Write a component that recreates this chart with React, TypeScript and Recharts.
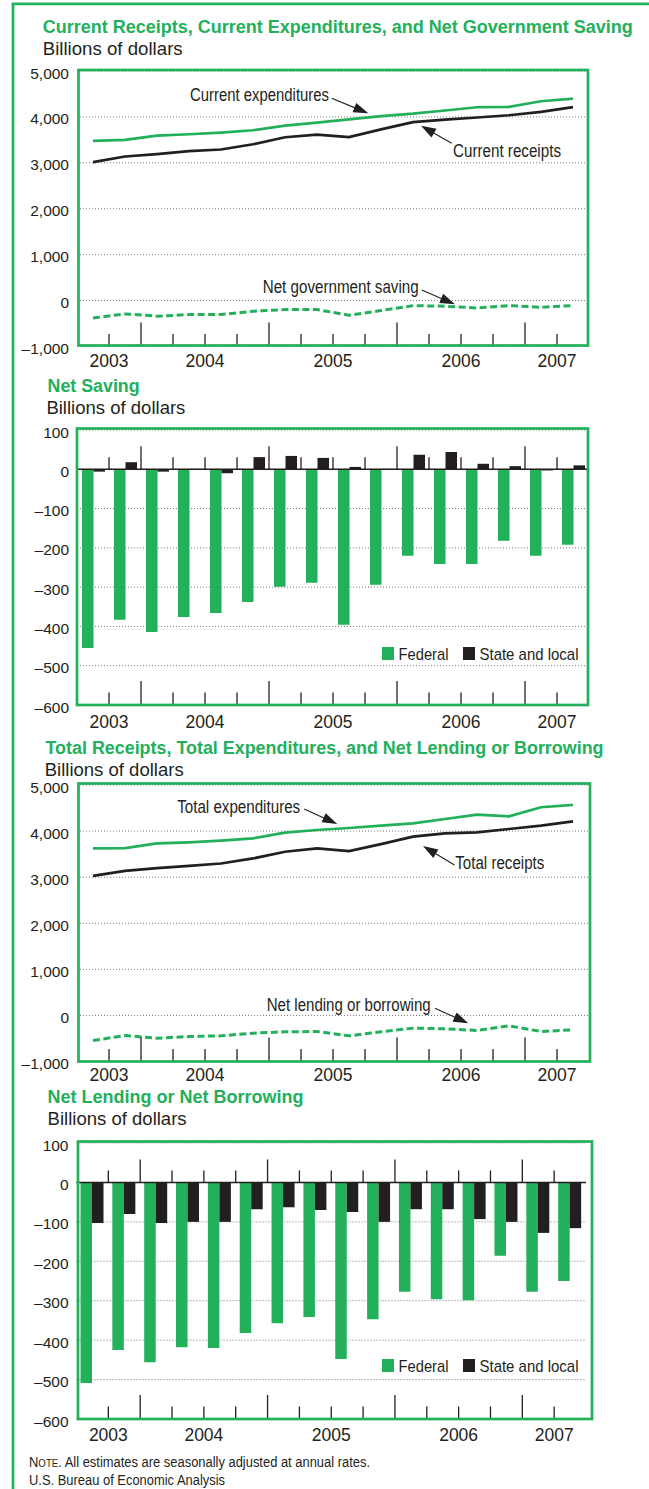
import React from 'react';
import { ComposedChart, Line, Bar, XAxis, YAxis, CartesianGrid, ReferenceLine, Legend } from 'recharts';

const GREEN = '#22b05b';
const BLACK = '#231f20';
const GRID = '#77787b';
const FONT = '"Liberation Sans", Arial, Helvetica, sans-serif';
const PAGE_W = 649;
const PAGE_H = 1489;

// ---------- data ----------
const quarters = [
  '2003:III', '2003:IV', '2004:I', '2004:II', '2004:III', '2004:IV',
  '2005:I', '2005:II', '2005:III', '2005:IV', '2006:I', '2006:II',
  '2006:III', '2006:IV', '2007:I', '2007:II',
];
const yearLabels = ['2003', '2004', '2005', '2006', '2007'];
const yearLabelBoundary = [1, 4, 8, 12, 15];
const majorBoundary = [2, 6, 10, 14];

const lineAxisTicks = [-1000, 0, 1000, 2000, 3000, 4000, 5000];
const barAxisTicks = [-600, -500, -400, -300, -200, -100, 0, 100];

const currentExpenditures = [3478, 3500, 3594, 3622, 3659, 3709, 3810, 3876, 3948, 4018, 4070, 4140, 4211, 4217, 4341, 4400];
const currentReceipts = [3015, 3138, 3189, 3254, 3290, 3405, 3557, 3615, 3562, 3730, 3888, 3943, 3987, 4036, 4110, 4215];
const netGovSaving = [-380, -290, -340, -305, -305, -232, -195, -195, -318, -217, -110, -123, -160, -108, -145, -108];

const federalSaving = [-455, -383, -414, -376, -366, -338, -299, -289, -396, -294, -220, -241, -241, -182, -220, -192];
const stateSaving = [-6, 18, -6, 1, -10, 31, 34, 29, 6, 1, 37, 44, 14, 8, -3, 10];

const totalExpenditures = [3624, 3631, 3733, 3755, 3791, 3842, 3965, 4023, 4067, 4118, 4168, 4263, 4357, 4321, 4517, 4568];
const totalReceipts = [3028, 3137, 3195, 3246, 3297, 3406, 3551, 3624, 3566, 3718, 3878, 3951, 3972, 4045, 4118, 4212];
const netLending = [-545, -436, -494, -458, -443, -385, -356, -349, -443, -356, -276, -290, -327, -225, -349, -312];

const federalLending = [-509, -425, -456, -418, -420, -382, -357, -341, -448, -347, -277, -296, -299, -186, -277, -250];
const stateLending = [-103, -80, -103, -100, -100, -68, -63, -70, -75, -100, -68, -68, -93, -100, -128, -116];

const savingLineData = quarters.map((q, i) => ({
  q, expenditures: currentExpenditures[i], receipts: currentReceipts[i], net: netGovSaving[i],
}));
const savingBarData = quarters.map((q, i) => ({ q, federal: federalSaving[i], state: stateSaving[i] }));
const totalLineData = quarters.map((q, i) => ({
  q, expenditures: totalExpenditures[i], receipts: totalReceipts[i], net: netLending[i],
}));
const lendingBarData = quarters.map((q, i) => ({ q, federal: federalLending[i], state: stateLending[i] }));

// ---------- layout ----------
type Geo = { plotTop: number; plotBottom: number; plotLeft: number; plotRight: number; labelDy: number };
const AXIS_W = 50;
const X_AXIS_H = 40;
const TOP_PAD = 10;

const G1: Geo = { plotTop: 70.5, plotBottom: 346, plotLeft: 77, plotRight: 589, labelDy: 20 };
const G2: Geo = { plotTop: 429.5, plotBottom: 704.5, plotLeft: 77, plotRight: 589, labelDy: 22.5 };
const G3: Geo = { plotTop: 785, plotBottom: 1061.5, plotLeft: 77, plotRight: 589, labelDy: 19 };
const G4: Geo = { plotTop: 1142.5, plotBottom: 1418.5, plotLeft: 76.5, plotRight: 586, labelDy: 21.5 };

const fmt = (v: number) => (v < 0 ? '\u2013' : '') + Math.abs(v).toLocaleString('en-US');

function makeQuarterTick(g: Geo, zeroRise: number | null) {
  const bw = (g.plotRight - g.plotLeft) / quarters.length;
  return (props: any) => {
    const { x, y, index } = props;
    const bx = x - bw / 2;
    const major = majorBoundary.includes(index);
    const yi = yearLabelBoundary.indexOf(index);
    return (
      <g>
        {index > 0 && (
          <line x1={bx} x2={bx} y1={y} y2={y - (major ? 24 : 12.5)} stroke={BLACK} strokeWidth={1.3} />
        )}
        {index > 0 && zeroRise !== null && (
          <line x1={bx} x2={bx} y1={y - zeroRise} y2={y - zeroRise - (major ? 23 : 12)} stroke={BLACK} strokeWidth={1.3} />
        )}
        {yi >= 0 && (
          <text x={bx} y={y + g.labelDy} textAnchor="middle" fontSize={17.5} fill={BLACK} fontFamily={FONT}>
            {yearLabels[yi]}
          </text>
        )}
      </g>
    );
  };
}

const valueTick = (props: any) => (
  <text x={props.x} y={props.y + 7.5} textAnchor="end" fontSize={15.5} fill={BLACK} fontFamily={FONT}>
    {fmt(props.payload.value)}
  </text>
);

function boxOf(g: Geo) {
  return {
    top: g.plotTop - TOP_PAD,
    height: TOP_PAD + (g.plotBottom - g.plotTop) + X_AXIS_H,
    margin: { top: TOP_PAD, right: PAGE_W - g.plotRight, bottom: 0, left: g.plotLeft - AXIS_W },
  };
}

function LinePanel({ g, data }: { g: Geo; data: any[] }) {
  const b = boxOf(g);
  return (
    <div style={{ position: 'absolute', left: 0, top: b.top }}>
      <ComposedChart width={PAGE_W} height={b.height} data={data} margin={b.margin}>
        <CartesianGrid horizontal vertical={false} stroke={GRID} strokeDasharray="1 2" />
        <XAxis dataKey="q" type="category" scale="band" interval={0} height={X_AXIS_H} tickLine={false} axisLine={false}
          tickSize={0} tickMargin={0} tick={makeQuarterTick(g, null)} />
        <YAxis type="number" domain={[-1000, 5000]} ticks={lineAxisTicks} width={AXIS_W} tickLine={false}
          axisLine={false} tickSize={0} tickMargin={8} tick={valueTick} interval={0} />
        <Line type="linear" dataKey="net" stroke={GREEN} strokeWidth={3} strokeDasharray="7 3.5" dot={false} isAnimationActive={false} />
        <Line type="linear" dataKey="receipts" stroke={BLACK} strokeWidth={2.7} dot={false} isAnimationActive={false} />
        <Line type="linear" dataKey="expenditures" stroke={GREEN} strokeWidth={2.7} dot={false} isAnimationActive={false} />
      </ComposedChart>
    </div>
  );
}

function LegendContent(props: any) {
  const payload = props.payload && props.payload.length ? props.payload : [];
  const widths = [50, 99];
  const starts = [0, 81];
  return (
    <svg width={205} height={16} style={{ display: 'block', overflow: 'visible' }}>
      {payload.map((p: any, i: number) => (
        <g key={i}>
          <rect x={starts[i]} y={0} width={12} height={13} fill={p.color} />
          <text x={starts[i] + 16.5} y={13} fontSize={17} fill={BLACK} fontFamily={FONT}
            textLength={widths[i]} lengthAdjust="spacingAndGlyphs">{p.value}</text>
        </g>
      ))}
    </svg>
  );
}

function BarPanel({ g, data, legendLeft, legendTop }: { g: Geo; data: any[]; legendLeft: number; legendTop: number }) {
  const b = boxOf(g);
  const zeroRise = (g.plotBottom - g.plotTop) * 600 / 700;
  return (
    <div style={{ position: 'absolute', left: 0, top: b.top }}>
      <ComposedChart width={PAGE_W} height={b.height} data={data} margin={b.margin} barGap={0}>
        <CartesianGrid horizontal vertical={false} stroke={GRID} strokeDasharray="1 2" />
        <XAxis dataKey="q" type="category" interval={0} height={X_AXIS_H} tickLine={false} axisLine={false}
          tickSize={0} tickMargin={0} tick={makeQuarterTick(g, zeroRise)} />
        <YAxis type="number" domain={[-600, 100]} ticks={barAxisTicks} width={AXIS_W} tickLine={false}
          axisLine={false} tickSize={0} tickMargin={8} tick={valueTick} interval={0} />
        <Bar dataKey="federal" name="Federal" fill={GREEN} barSize={11.5} isAnimationActive={false} />
        <Bar dataKey="state" name="State and local" fill={BLACK} barSize={11.5} isAnimationActive={false} />
        <ReferenceLine y={0} stroke={BLACK} strokeWidth={1.5} />
        <Legend layout="horizontal" align="center" verticalAlign="middle" content={LegendContent}
          wrapperStyle={{ position: 'absolute', left: legendLeft, top: legendTop - b.top, width: 205, height: 16 }} />
      </ComposedChart>
    </div>
  );
}

function CText({ x, y, w, size, bold, fill, children }: any) {
  return (
    <text x={x} y={y} textLength={w} lengthAdjust="spacingAndGlyphs" fontSize={size}
      fontWeight={bold ? 700 : 400} fill={fill || BLACK} fontFamily={FONT}>
      {children}
    </text>
  );
}

function Arrow({ x1, y1, x2, y2 }: { x1: number; y1: number; x2: number; y2: number }) {
  const dx = x2 - x1;
  const dy = y2 - y1;
  const len = Math.hypot(dx, dy);
  const ux = dx / len;
  const uy = dy / len;
  const hl = 15;
  const hw = 5;
  const bx = x2 - ux * hl;
  const by = y2 - uy * hl;
  const px = -uy;
  const py = ux;
  return (
    <g>
      <line x1={x1} y1={y1} x2={bx + ux * 2} y2={by + uy * 2} stroke={BLACK} strokeWidth={1.1} />
      <polygon points={`${x2},${y2} ${bx + px * hw},${by + py * hw} ${bx - px * hw},${by - py * hw}`} fill={BLACK} />
    </g>
  );
}

function Border({ x1, x2, y1, y2 }: { x1: number; x2: number; y1: number; y2: number }) {
  return <rect x={x1} y={y1} width={x2 - x1} height={y2 - y1} fill="none" stroke={GREEN} strokeWidth={2.7} />;
}

function Overlay() {
  return (
    <svg width={PAGE_W} height={PAGE_H} style={{ position: 'absolute', left: 0, top: 0, pointerEvents: 'none' }}>
      {/* outer frame */}
      <line x1={13} y1={3.8} x2={13} y2={PAGE_H} stroke={GREEN} strokeWidth={2.7} />
      <line x1={11.7} y1={3.8} x2={PAGE_W} y2={3.8} stroke={GREEN} strokeWidth={2.7} />

      {/* plot borders */}
      <Border x1={78.5} x2={588} y1={70} y2={345.5} />
      <Border x1={77} x2={588} y1={428.5} y2={705} />
      <Border x1={78.5} x2={590} y1={783.5} y2={1061.5} />
      <Border x1={78} x2={592} y1={1141.5} y2={1419} />

      {/* panel 1 */}
      <CText x={42.7} y={32.5} w={590} size={18} bold fill={GREEN}>
        Current Receipts, Current Expenditures, and Net Government Saving
      </CText>
      <CText x={42.7} y={55} w={140} size={17.5}>Billions of dollars</CText>
      <CText x={190} y={100.7} w={139} size={17.5}>Current expenditures</CText>
      <Arrow x1={331.7} y1={98.3} x2={368.3} y2={113.3} />
      <CText x={453} y={156.7} w={108} size={17.5}>Current receipts</CText>
      <Arrow x1={451.7} y1={143.3} x2={421} y2={125.7} />
      <CText x={262.7} y={293.3} w={156} size={17.5}>Net government saving</CText>
      <Arrow x1={421.7} y1={290} x2={455} y2={304.3} />

      {/* panel 2 */}
      <CText x={47.6} y={391.7} w={92} size={18} bold fill={GREEN}>Net Saving</CText>
      <CText x={46.4} y={414} w={139} size={17.5}>Billions of dollars</CText>

      {/* panel 3 */}
      <CText x={45.5} y={754} w={558} size={18} bold fill={GREEN}>
        Total Receipts, Total Expenditures, and Net Lending or Borrowing
      </CText>
      <CText x={44.7} y={775.7} w={139} size={17.5}>Billions of dollars</CText>
      <CText x={177.2} y={813.3} w={123} size={17.5}>Total expenditures</CText>
      <Arrow x1={304.2} y1={809} x2={337.3} y2={824} />
      <CText x={455.3} y={869.3} w={89} size={17.5}>Total receipts</CText>
      <Arrow x1={454.5} y1={865} x2={423} y2={846} />
      <CText x={266.7} y={1010.7} w={164} size={17.5}>Net lending or borrowing</CText>
      <Arrow x1={435} y1={1008.3} x2={468.3} y2={1023.3} />

      {/* panel 4 */}
      <CText x={47.6} y={1103} w={256} size={18} bold fill={GREEN}>Net Lending or Net Borrowing</CText>
      <CText x={47.6} y={1125} w={139} size={17.5}>Billions of dollars</CText>

      {/* footnote */}
      <text x={29} y={1466.7} textLength={341} lengthAdjust="spacingAndGlyphs" fontSize={14} fill={BLACK} fontFamily={FONT}>
        N<tspan fontSize={10.5}>OTE</tspan>. All estimates are seasonally adjusted at annual rates.
      </text>
      <CText x={29} y={1485} w={196} size={14}>U.S. Bureau of Economic Analysis</CText>
    </svg>
  );
}

export default function App() {
  return (
    <div style={{ position: 'absolute', left: 0, top: 0, width: PAGE_W, height: PAGE_H, background: '#ffffff', overflow: 'hidden', fontFamily: FONT }}>
      <LinePanel g={G1} data={savingLineData} />
      <BarPanel g={G2} data={savingBarData} legendLeft={381.6} legendTop={647.3} />
      <LinePanel g={G3} data={totalLineData} />
      <BarPanel g={G4} data={lendingBarData} legendLeft={381.6} legendTop={1358.5} />
      <Overlay />
    </div>
  );
}
